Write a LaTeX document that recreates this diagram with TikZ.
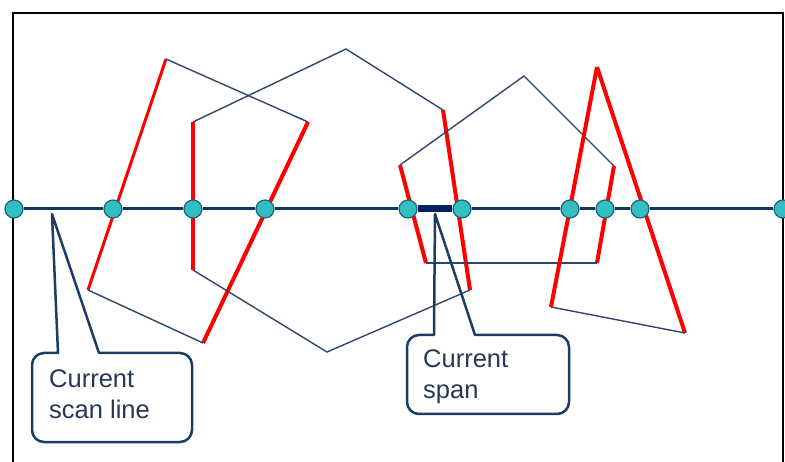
\documentclass[tikz,border=0pt]{standalone}
\usepackage{fontspec}
\setmainfont{Liberation Sans}
\definecolor{edgeblue}{RGB}{45,70,105}
\definecolor{scanblue}{RGB}{20,55,95}
\definecolor{spanblue}{RGB}{0,32,96}
\definecolor{dotfill}{RGB}{51,190,196}
\definecolor{dotline}{RGB}{30,100,120}
\definecolor{boxblue}{RGB}{28,60,100}
\definecolor{textblue}{RGB}{38,56,86}
\begin{document}
\begin{tikzpicture}[x=1pt,y=-1pt,
  hit/.style={circle,fill=dotfill,draw=dotline,line width=1.2pt,minimum size=18pt,inner sep=0pt},
  inedge/.style={red,line width=4pt},
  outedge/.style={edgeblue,line width=1.4pt},
  scan/.style={scanblue,line width=3pt},
  spanbar/.style={spanblue,line width=7pt},
  callout/.style={draw=boxblue,line width=2.5pt,line join=round},
  calltext/.style={anchor=west,align=left,inner sep=0pt,text=textblue,font=\fontsize{25.5}{31}\selectfont}]
        \useasboundingbox (0,0) rectangle (785,462);
        \clip (0,0) rectangle (785,462);
        % frame
        \draw[line width=2.5pt] (13,480) |- (783,13) -- (783,480);
        % polygon corners
        \coordinate (a1) at (88,290);
        \coordinate (a2) at (166,59);
        \coordinate (a3) at (308,122);
        \coordinate (a4) at (203,343);
        \coordinate (b1) at (193,122);
        \coordinate (b2) at (346,49);
        \coordinate (b3) at (443,110);
        \coordinate (b4) at (470,290);
        \coordinate (b5) at (327,352);
        \coordinate (b6) at (193,270);
        \coordinate (c1) at (400,165);
        \coordinate (c2) at (524,76);
        \coordinate (c3) at (614,166);
        \coordinate (c4) at (597,263);
        \coordinate (c5) at (426,263);
        \coordinate (d1) at (597,67);
        \coordinate (d2) at (685,333);
        \coordinate (d3) at (551,307);
        % edges, red ones cross the scan line
        \draw[inedge,line width=3pt] (a1) -- (a2);
        \draw[outedge] (a2) -- (a3);
        \draw[inedge] (a3) -- (a4);
        \draw[outedge] (a4) -- (a1);
        \draw[outedge] (b1) -- (b2) -- (b3);
        \draw[inedge] (b3) -- (b4);
        \draw[outedge] (b4) -- (b5) -- (b6);
        \draw[inedge] (b6) -- (b1);
        \draw[outedge] (c1) -- (c2) -- (c3);
        \draw[inedge] (c3) -- (c4);
        \draw[outedge] (c4) -- (c5);
        \draw[inedge] (c5) -- (c1);
        \draw[inedge] (d1) -- (d2);
        \draw[outedge] (d2) -- (d3);
        \draw[inedge] (d3) -- (d1);
        % callouts
        \coordinate (scantip) at (52,214);
        \coordinate (spantip) at (435,214);
        \draw[callout] (58,353) -- (scantip) -- (99,353) -- (180,353)
          arc[start angle=-90,end angle=0,radius=12] -- (192,430)
          arc[start angle=0,end angle=90,radius=12] -- (44,442)
          arc[start angle=90,end angle=180,radius=12] -- (32,365)
          arc[start angle=180,end angle=270,radius=12] -- cycle;
        \draw[callout] (434,335) -- (spantip) -- (475,335) -- (557,335)
          arc[start angle=-90,end angle=0,radius=12] -- (569,402)
          arc[start angle=0,end angle=90,radius=12] -- (419,414)
          arc[start angle=90,end angle=180,radius=12] -- (407,347)
          arc[start angle=180,end angle=270,radius=12] -- cycle;
        \node[calltext] (scanlbl) at (49,394) {Current\\scan line};
        \node[calltext] (spanlbl) at (423,377) {Current\\span};
        % scan line and hits
        \node[hit] (x1) at (14,209) {};
        \node[hit] (x2) at (113,209) {};
        \node[hit] (x3) at (193,209) {};
        \node[hit] (x4) at (265,209) {};
        \node[hit] (x5) at (408,209) {};
        \node[hit] (x6) at (462,209) {};
        \node[hit] (x7) at (570,209) {};
        \node[hit] (x8) at (605,209) {};
        \node[hit] (x9) at (640,209) {};
        \node[hit] (x10) at (783,209) {};
        \draw[scan] (x1) -- (x2) -- (x3) -- (x4) -- (x5);
        \draw[spanbar] (x5) -- (x6);
        \draw[scan] (x6) -- (x7) -- (x8) -- (x9) -- (x10);
\end{tikzpicture}
\end{document}
